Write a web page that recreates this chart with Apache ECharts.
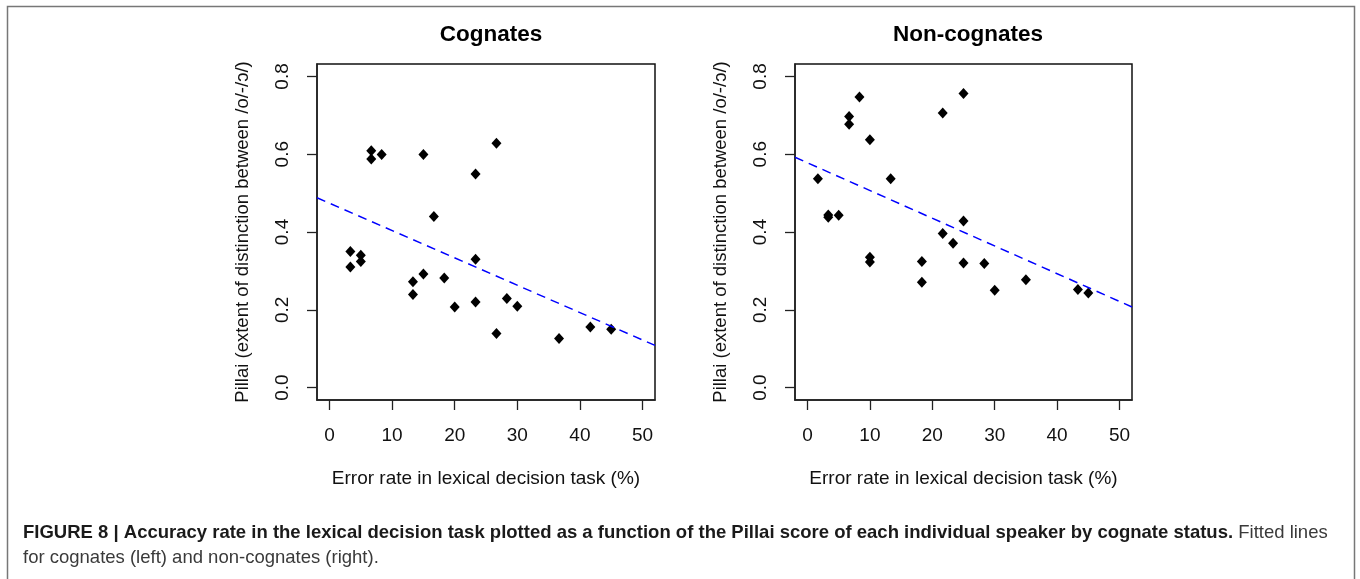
<!DOCTYPE html>
<html>
<head>
<meta charset="utf-8">
<script src="https://cdn.jsdelivr.net/npm/echarts@6/dist/echarts.min.js"></script>
<style>
html,body{margin:0;padding:0;background:#fff;}
#chart{width:1360px;height:579px;}
</style>
</head>
<body>
<div id="chart"></div>
<script>
// Error rate in lexical decision task (%) and Pillai scores
const cogErr    = [3.33,3.33,5,5,6.67,6.67,8.33,13.33,13.33,15,15,16.67,18.33,20,23.33,23.33,23.33,26.67,26.67,28.33,30,36.67,41.67,45];
const cogPillai = [0.350,0.310,0.340,0.324,0.609,0.588,0.599,0.272,0.239,0.599,0.292,0.440,0.282,0.207,0.549,0.330,0.220,0.628,0.139,0.229,0.209,0.126,0.156,0.150];
const nonErr    = [1.67,3.33,3.33,5,6.67,6.67,8.33,10,10,10,13.33,18.33,18.33,21.67,21.67,23.33,25,25,25,28.33,30,35,43.33,45];
const nonPillai = [0.537,0.444,0.438,0.443,0.697,0.677,0.747,0.637,0.335,0.323,0.537,0.324,0.271,0.706,0.396,0.371,0.756,0.428,0.320,0.319,0.250,0.277,0.252,0.243];
// Fitted lines (intercept, slope)
const cogFit = [0.474, -0.00703];
const nonFit = [0.578, -0.00713];
// Tick labels
const xTicks = [0,10,20,30,40,50];
const yTicks = [0,0.2,0.4,0.6,0.8];
const panelTitles = ['Cognates','Non-cognates'];

const X_MIN = -2, X_MAX = 52, Y_MIN = -0.032, Y_MAX = 0.832;
const FONT = '"Liberation Sans", Arial, Helvetica, sans-serif';

function pts(xs, ys){ return xs.map((x,i)=>[x, ys[i]]); }
function fitLine(f){ return [[X_MIN, f[0]+f[1]*X_MIN],[X_MAX, f[0]+f[1]*X_MAX]]; }

const grids = [
  {left:317, top:64, width:338, height:336},
  {left:795, top:64, width:337, height:336}
];

function xAxis(i){
  return {
    gridIndex:i, type:'value', min:X_MIN, max:X_MAX,
    name:'Error rate in lexical decision task (%)', nameLocation:'middle', nameGap:69,
    nameTextStyle:{fontFamily:FONT, fontSize:19, color:'#111'},
    axisLine:{show:true, onZero:false, lineStyle:{color:'#222', width:1.5}},
    axisTick:{show:true, inside:false, length:10, customValues:xTicks, lineStyle:{color:'#222', width:1.3}},
    axisLabel:{customValues:xTicks, margin:26, fontFamily:FONT, fontSize:19, color:'#111'},
    splitLine:{show:false}
  };
}
function yAxis(i){
  return {
    gridIndex:i, type:'value', min:Y_MIN, max:Y_MAX,
    name:'Pillai (extent of distinction between /o/-/ɔ/)', nameLocation:'middle', nameGap:65, nameRotate:90,
    nameTextStyle:{fontFamily:FONT, fontSize:18.5, color:'#111'},
    axisLine:{show:true, onZero:false, lineStyle:{color:'#222', width:1.5}},
    axisTick:{show:true, inside:false, length:10, customValues:yTicks, lineStyle:{color:'#222', width:1.3}},
    axisLabel:{customValues:yTicks, rotate:90, margin:25, fontFamily:FONT, fontSize:19, color:'#111',
      formatter:v=>v.toFixed(1)},
    splitLine:{show:false}
  };
}

const chart = echarts.init(document.getElementById('chart'), null, {renderer:'canvas'});
chart.setOption({
  animation:false,
  backgroundColor:'#fff',
  title:[
    {text:panelTitles[0], left:486, top:18, textAlign:'center',
     textStyle:{fontFamily:FONT, fontSize:22.5, fontWeight:'bold', color:'#000'}},
    {text:panelTitles[1], left:963, top:18, textAlign:'center',
     textStyle:{fontFamily:FONT, fontSize:22.5, fontWeight:'bold', color:'#000'}},
    {text:'{b|FIGURE 8 | Accuracy rate in the lexical decision task plotted as a function of the Pillai score of each individual speaker by cognate status.}{r| Fitted lines}\n{r|for cognates (left) and non-cognates (right).}',
     left:18, top:515,
     textStyle:{fontWeight:'normal', rich:{
       b:{fontFamily:FONT, fontSize:18.5, fontWeight:'bold', color:'#1a1a1a', lineHeight:25},
       r:{fontFamily:FONT, fontSize:18.5, fontWeight:'normal', color:'#3a3a3a', lineHeight:25}
     }}}
  ],
  graphic:[
    {type:'rect', shape:{x:7.5, y:6.5, width:1347, height:620}, silent:true,
     style:{fill:null, stroke:'#777', lineWidth:1.5}}
  ],
  grid: grids.map(g=>Object.assign({show:true, borderColor:'#111', borderWidth:1.5, backgroundColor:'transparent'}, g)),
  xAxis:[xAxis(0), xAxis(1)],
  yAxis:[yAxis(0), yAxis(1)],
  series:[
    {type:'scatter', xAxisIndex:0, yAxisIndex:0, data:pts(cogErr,cogPillai),
     symbol:'diamond', symbolSize:[10,11], itemStyle:{color:'#000', opacity:1}},
    {type:'line', xAxisIndex:0, yAxisIndex:0, data:fitLine(cogFit), showSymbol:false, symbol:'none', clip:true,
     lineStyle:{color:'#0000ff', width:1.5, type:[9,6]}, z:3},
    {type:'scatter', xAxisIndex:1, yAxisIndex:1, data:pts(nonErr,nonPillai),
     symbol:'diamond', symbolSize:[10,11], itemStyle:{color:'#000', opacity:1}},
    {type:'line', xAxisIndex:1, yAxisIndex:1, data:fitLine(nonFit), showSymbol:false, symbol:'none', clip:true,
     lineStyle:{color:'#0000ff', width:1.5, type:[9,6]}, z:3}
  ]
});
</script>
</body>
</html>
